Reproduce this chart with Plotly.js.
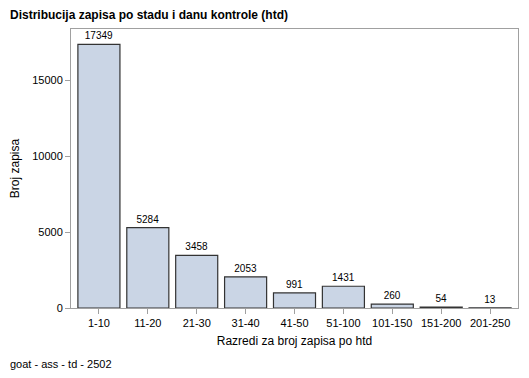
<!DOCTYPE html>
<html><head><meta charset="utf-8">
<script src="https://cdn.plot.ly/plotly-3.0.1.min.js"></script>
<style>body{margin:0;padding:0;background:#fff}#chart{width:529px;height:378px}</style>
</head><body><div id="chart"></div>
<script>
const categories = ["1-10","11-20","21-30","31-40","41-50","51-100","101-150","151-200","201-250"];
const counts = [17349, 5284, 3458, 2053, 991, 1431, 260, 54, 13];
const yTicks = [0, 5000, 10000, 15000];

const trace = {
  type: 'bar',
  x: categories,
  y: counts,
  text: counts.map(String),
  textposition: 'outside',
  cliponaxis: false,
  textfont: {family: 'Liberation Sans, Arial, sans-serif', size: 10, color: '#000'},
  marker: {color: '#CAD5E5', line: {color: '#333333', width: 1.2}},
  hoverinfo: 'none'
};
const font = 'Liberation Sans, Arial, sans-serif';
const layout = {
  width: 529, height: 378,
  margin: {l: 71, r: 11, t: 29, b: 70},
  paper_bgcolor: '#fff', plot_bgcolor: '#fff',
  bargap: 0.14,
  showlegend: false,
  font: {family: font, size: 11, color: '#000'},
  xaxis: {
    type: 'category',
    range: [-0.571, 8.571],
    showgrid: false, zeroline: false,
    showline: true, mirror: true, linecolor: '#a0a0a0', linewidth: 1,
    ticks: 'outside', ticklen: 5, tickcolor: '#a0a0a0',
    tickfont: {family: font, size: 11, color: '#000'},
    title: {text: 'Razredi za broj zapisa po htd', font: {family: font, size: 12, color: '#000'}, standoff: 8}
  },
  yaxis: {
    range: [0, 18355],
    tickvals: yTicks,
    ticktext: yTicks.map(String),
    showgrid: false, zeroline: false,
    showline: true, mirror: true, linecolor: '#a0a0a0', linewidth: 1,
    ticks: 'outside', ticklen: 5, tickcolor: '#a0a0a0',
    tickfont: {family: font, size: 11, color: '#000'},
    title: {text: 'Broj zapisa', font: {family: font, size: 12, color: '#000'}, standoff: 10}
  },
  annotations: [
    {text: '<b>Distribucija zapisa po stadu i danu kontrole (htd)</b>', xref: 'paper', yref: 'paper',
     x: 0, y: 1, xanchor: 'left', yanchor: 'middle', showarrow: false,
     font: {family: font, size: 12, color: '#000'}, xshift: -63, yshift: 14},
    {text: 'goat - ass - td - 2502', xref: 'paper', yref: 'paper',
     x: 0, y: 0, xanchor: 'left', yanchor: 'middle', showarrow: false,
     font: {family: font, size: 11, color: '#000'}, xshift: -63, yshift: -56}
  ]
};
Plotly.newPlot('chart', [trace], layout, {staticPlot: true, displayModeBar: false});
</script></body></html>
